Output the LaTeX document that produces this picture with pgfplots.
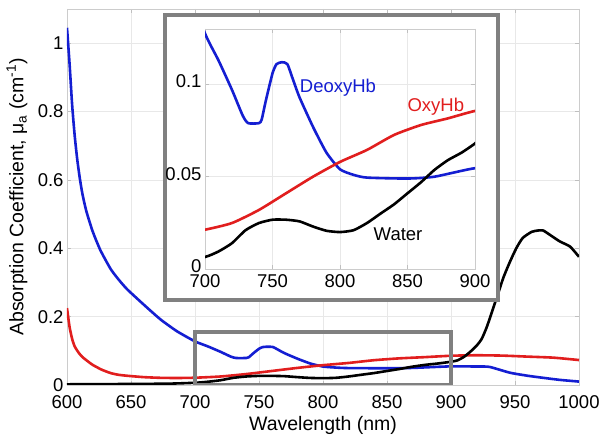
\documentclass[border=0pt]{standalone}
\usepackage{fontspec}
\setmainfont{Liberation Sans}
\usepackage{pgfplots}
\usepackage{pgfplotstable}
\pgfplotsset{compat=1.18}
\usetikzlibrary{calc}
\definecolor{cblue}{RGB}{20,30,210}
\definecolor{cred}{RGB}{225,30,30}
\definecolor{frame}{RGB}{128,128,128}

\pgfplotstableread{
x y
600 1.045
602 0.94
604 0.82
606 0.73
608 0.66
610 0.605
612 0.56
615 0.51
620 0.45
626 0.395
634 0.34
640 0.31
647 0.28
660 0.235
673 0.192
686 0.157
700 0.1276
710 0.113
720 0.097
728 0.083
732 0.079
740 0.079
742 0.081
745 0.091
750 0.106
753 0.111
757 0.112
761 0.111
765 0.103
770 0.093
780 0.077
790 0.063
800 0.054
810 0.051
820 0.0495
850 0.049
870 0.050
900 0.0546
920 0.054
930 0.053
946 0.036
960 0.027
972 0.021
985 0.015
1000 0.010
}\deoxy

\pgfplotstableread{
x y
600 0.225
602 0.17
604 0.135
606 0.113
609 0.095
612 0.082
616 0.070
620 0.059
627 0.045
634 0.035
640 0.030
647 0.027
660 0.023
673 0.021
686 0.0205
700 0.0213
720 0.0249
740 0.032
760 0.041
780 0.050
800 0.058
820 0.0645
840 0.0726
860 0.078
880 0.0816
900 0.0856
920 0.087
940 0.086
960 0.083
980 0.080
1000 0.073
}\oxy

\pgfplotstableread{
x y
600 0.002
650 0.003
680 0.004
700 0.0065
710 0.0095
720 0.014
730 0.021
740 0.0249
750 0.0267
760 0.0267
770 0.0258
780 0.023
790 0.0207
800 0.020
810 0.021
820 0.0249
830 0.030
840 0.035
850 0.041
860 0.047
870 0.0537
880 0.059
890 0.063
900 0.068
905 0.072
910 0.082
915 0.097
920 0.115
924 0.135
928 0.17
933 0.225
937 0.27
941 0.315
946 0.36
951 0.40
956 0.43
963 0.448
968 0.452
972 0.452
977 0.44
985 0.42
993 0.405
1000 0.375
}\water

\pgfplotsset{
  common/.style={
    scale only axis,
    font=\fontsize{18.5bp}{21bp}\selectfont,
    /pgf/number format/assume math mode=true,
    /pgf/number format/1000 sep={},
    axis line style={draw=gray!40},
    grid=major,
    major grid style={draw=gray!18, line width=0.6bp},
    tick align=inside,
    major tick length=4bp,
    tick style={draw=gray!50, line width=0.6bp},
    scaled y ticks=false,
    yticklabel style={/pgf/number format/fixed, /pgf/number format/precision=2},
  },
  curve/.style={line width=2.6bp, line join=round, smooth, tension=0.35},
}

\begin{document}
\begin{tikzpicture}
\begin{axis}[common,
  name=main,
  width=512bp, height=376bp,
  xmin=600, xmax=1000, ymin=0, ymax=1.1,
  xtick={600,650,...,1000},
  ytick={0,0.2,0.4,0.6,0.8,1},
  xticklabel style={yshift=-7bp},
  every axis x label/.style={at={(axis description cs:0.5,0)}, yshift=-40bp, anchor=center, font=\fontsize{19.5bp}{22bp}\selectfont},
  every axis y label/.style={at={(axis description cs:0,0.5)}, xshift=-50bp, rotate=90, anchor=center, font=\fontsize{19.5bp}{22bp}\selectfont},
  xlabel={Wavelength (nm)},
  ylabel={Absorption Coefficient, μ\textsubscript{a} (cm\textsuperscript{-1})},
]
\addplot[curve, cblue] table[x=x,y=y] {\deoxy};
\addplot[curve, cred] table[x=x,y=y] {\oxy};
\addplot[curve, black] table[x=x,y=y] {\water};
\draw[frame, line width=3.5bp] (axis cs:700,0) rectangle (axis cs:900,0.155);
\draw[frame, line width=3.5bp, fill=white] (axis cs:676.6,0.2488) rectangle (axis cs:936.7,1.0828);
\end{axis}

\begin{axis}[common,
  at={($(main.south west)+(138bp,116bp)$)}, anchor=south west,
  width=270bp, height=240bp,
  xmin=700, xmax=900, ymin=0, ymax=0.13,
  xtick={700,750,...,900},
  ytick={0,0.05,0.1},
  xticklabel style={yshift=-2.5bp},
  yticklabel style={yshift=3bp},
]
\addplot[curve, cblue] table[x=x,y=y] {\deoxy};
\addplot[curve, cred] table[x=x,y=y] {\oxy};
\addplot[curve, black] table[x=x,y=y] {\water};
\node[cblue] at (axis cs:798.5,0.098) {DeoxyHb};
\node[cred] at (axis cs:871,0.088) {OxyHb};
\node[black] at (axis cs:843,0.0186) {Water};
\end{axis}

\pgfresetboundingbox
\path ($(main.south west)+(-67bp,-60bp)$) rectangle ($(main.south west)+(537bp,385bp)$);
\end{tikzpicture}
\end{document}
